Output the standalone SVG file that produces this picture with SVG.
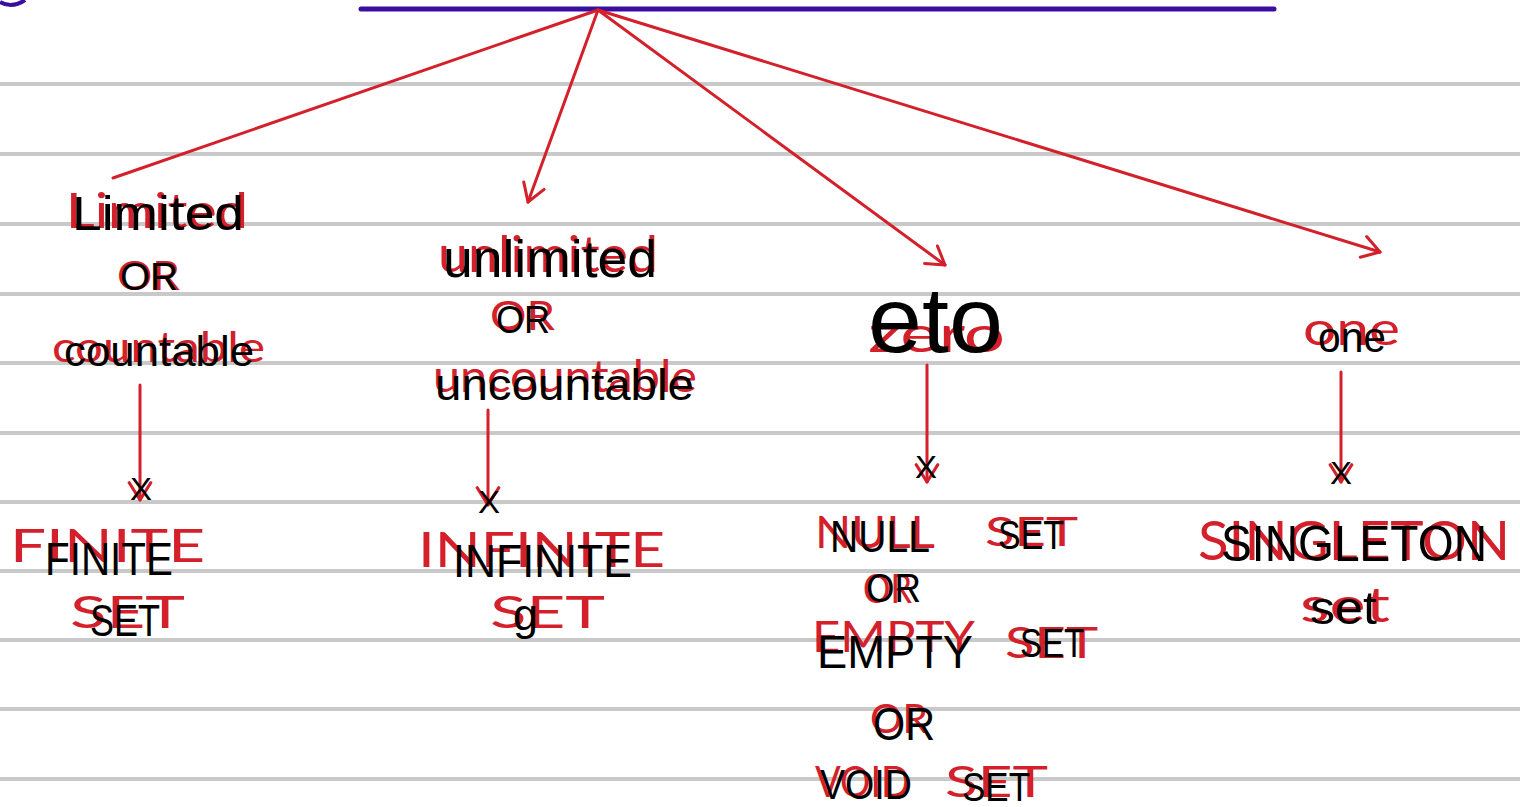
<svg xmlns="http://www.w3.org/2000/svg" width="1520" height="807" viewBox="0 0 1520 807">
<style>
.rule{stroke:#c9c9c9;stroke-width:4}
.conn{stroke:#d3202a;stroke-width:3;fill:none;stroke-linecap:round}
.hand{fill:#d3202a;font-family:Lato,"Liberation Sans",Arial,sans-serif;font-weight:400}
.ocr{fill:#000;font-family:"Liberation Sans",Arial,sans-serif}
</style>
<defs>
<marker id="head" viewBox="0 0 24 24" refX="22" refY="12" markerWidth="26" markerHeight="26" markerUnits="userSpaceOnUse" orient="auto">
<path d="M6,2 L22,12 L6,22" fill="none" stroke="#d3202a" stroke-width="2.8" stroke-linecap="round" stroke-linejoin="round"/>
</marker>
</defs>
<rect width="1520" height="807" fill="#fff"/>
<g id="ruled-paper">
<line class="rule" x1="0" y1="84" x2="1520" y2="84"/>
<line class="rule" x1="0" y1="154" x2="1520" y2="154"/>
<line class="rule" x1="0" y1="224" x2="1520" y2="224"/>
<line class="rule" x1="0" y1="294" x2="1520" y2="294"/>
<line class="rule" x1="0" y1="363" x2="1520" y2="363"/>
<line class="rule" x1="0" y1="433" x2="1520" y2="433"/>
<line class="rule" x1="0" y1="502" x2="1520" y2="502"/>
<line class="rule" x1="0" y1="571" x2="1520" y2="571"/>
<line class="rule" x1="0" y1="640" x2="1520" y2="640"/>
<line class="rule" x1="0" y1="709" x2="1520" y2="709"/>
<line class="rule" x1="0" y1="779" x2="1520" y2="779"/>
</g>
<g id="root">
<path d="M0,2 Q12,9 25,0" fill="none" stroke="#3a0f9f" stroke-width="4"/>
<line x1="361" y1="9" x2="1274" y2="9" stroke="#3a0f9f" stroke-width="5" stroke-linecap="round"/>
</g>
<g id="connectors">
<path class="conn" d="M598,10 L113,178"/>
<path class="conn" d="M598,10 L528,202" marker-end="url(#head)"/>
<path class="conn" d="M598,10 L945,265" marker-end="url(#head)"/>
<path class="conn" d="M598,10 L1380,252" marker-end="url(#head)"/>
<path class="conn" d="M140,385 L140,500" marker-end="url(#head)"/>
<path class="conn" d="M488,410 L488,505" marker-end="url(#head)"/>
<path class="conn" d="M927,365 L927,482" marker-end="url(#head)"/>
<path class="conn" d="M1341,372 L1341,482" marker-end="url(#head)"/>
</g>
<g id="node-limited">
<text class="hand" x="66" y="228" font-size="48" textLength="182" lengthAdjust="spacingAndGlyphs">Limited</text>
<text class="hand" x="117" y="290" font-size="40" textLength="63" lengthAdjust="spacingAndGlyphs">OR</text>
<text class="hand" x="52" y="362" font-size="42" textLength="213" lengthAdjust="spacingAndGlyphs">countable</text>
<text class="ocr" x="72" y="230" font-size="49" textLength="172" lengthAdjust="spacingAndGlyphs">Limited</text>
<text class="ocr" x="120" y="290" font-size="39" textLength="58" lengthAdjust="spacingAndGlyphs">OR</text>
<text class="ocr" x="64" y="366" font-size="42" textLength="190" lengthAdjust="spacingAndGlyphs">countable</text>
</g>
<g id="node-unlimited">
<text class="hand" x="438" y="272" font-size="50" textLength="220" lengthAdjust="spacingAndGlyphs">unlimited</text>
<text class="hand" x="490" y="330" font-size="40" textLength="65" lengthAdjust="spacingAndGlyphs">OR</text>
<text class="hand" x="433" y="392" font-size="44" textLength="264" lengthAdjust="spacingAndGlyphs">uncountable</text>
<text class="ocr" x="443" y="277" font-size="51" textLength="214" lengthAdjust="spacingAndGlyphs">unlimited</text>
<text class="ocr" x="496" y="333" font-size="39" textLength="54" lengthAdjust="spacingAndGlyphs">OR</text>
<text class="ocr" x="435" y="400" font-size="44" textLength="259" lengthAdjust="spacingAndGlyphs">uncountable</text>
</g>
<g id="node-zero">
<text class="hand" x="868" y="352" font-size="50" textLength="137" lengthAdjust="spacingAndGlyphs">zero</text>
<text class="ocr" x="868" y="352" font-size="92" textLength="135" lengthAdjust="spacingAndGlyphs">eto</text>
</g>
<g id="node-one">
<text class="hand" x="1303" y="345" font-size="46" textLength="97" lengthAdjust="spacingAndGlyphs">one</text>
<text class="ocr" x="1318" y="352" font-size="42" textLength="68" lengthAdjust="spacingAndGlyphs">one</text>
</g>
<g id="node-finite">
<text class="hand" x="10" y="562" font-size="46" textLength="195" lengthAdjust="spacingAndGlyphs">FINITE</text>
<text class="hand" x="70" y="628" font-size="44" textLength="115" lengthAdjust="spacingAndGlyphs">SET</text>
<text class="ocr" x="130" y="500" font-size="32" textLength="22" lengthAdjust="spacingAndGlyphs">X</text>
<text class="ocr" x="45" y="575" font-size="47" textLength="128" lengthAdjust="spacingAndGlyphs">FINITE</text>
<text class="ocr" x="90" y="636" font-size="44" textLength="70" lengthAdjust="spacingAndGlyphs">SET</text>
</g>
<g id="node-infinite">
<text class="hand" x="418" y="567" font-size="48" textLength="247" lengthAdjust="spacingAndGlyphs">INFINITE</text>
<text class="hand" x="490" y="628" font-size="44" textLength="115" lengthAdjust="spacingAndGlyphs">SET</text>
<text class="ocr" x="478" y="513" font-size="32" textLength="22" lengthAdjust="spacingAndGlyphs">X</text>
<text class="ocr" x="453" y="577" font-size="47" textLength="179" lengthAdjust="spacingAndGlyphs">INFINITE</text>
<text class="ocr" x="513" y="630" font-size="44" textLength="25" lengthAdjust="spacingAndGlyphs">g</text>
</g>
<g id="node-null">
<text class="hand" x="815" y="548" font-size="44" textLength="120" lengthAdjust="spacingAndGlyphs">NULL</text>
<text class="hand" x="985" y="546" font-size="40" textLength="93" lengthAdjust="spacingAndGlyphs">SET</text>
<text class="hand" x="863" y="603" font-size="40" textLength="49" lengthAdjust="spacingAndGlyphs">OR</text>
<text class="hand" x="812" y="652" font-size="42" textLength="163" lengthAdjust="spacingAndGlyphs">EMPTY</text>
<text class="hand" x="1005" y="658" font-size="42" textLength="93" lengthAdjust="spacingAndGlyphs">SET</text>
<text class="hand" x="870" y="733" font-size="40" textLength="58" lengthAdjust="spacingAndGlyphs">OR</text>
<text class="hand" x="815" y="797" font-size="42" textLength="95" lengthAdjust="spacingAndGlyphs">VOID</text>
<text class="hand" x="945" y="797" font-size="42" textLength="103" lengthAdjust="spacingAndGlyphs">SET</text>
<text class="ocr" x="915" y="478" font-size="32" textLength="22" lengthAdjust="spacingAndGlyphs">X</text>
<text class="ocr" x="830" y="552" font-size="44" textLength="100" lengthAdjust="spacingAndGlyphs">NULL</text>
<text class="ocr" x="998" y="549" font-size="40" textLength="66" lengthAdjust="spacingAndGlyphs">SET</text>
<text class="ocr" x="866" y="602" font-size="40" textLength="55" lengthAdjust="spacingAndGlyphs">OR</text>
<text class="ocr" x="817" y="668" font-size="46" textLength="156" lengthAdjust="spacingAndGlyphs">EMPTY</text>
<text class="ocr" x="1020" y="657" font-size="40" textLength="64" lengthAdjust="spacingAndGlyphs">SET</text>
<text class="ocr" x="873" y="740" font-size="46" textLength="62" lengthAdjust="spacingAndGlyphs">OR</text>
<text class="ocr" x="820" y="799" font-size="43" textLength="92" lengthAdjust="spacingAndGlyphs">VOID</text>
<text class="ocr" x="962" y="801" font-size="40" textLength="68" lengthAdjust="spacingAndGlyphs">SET</text>
</g>
<g id="node-singleton">
<text class="hand" x="1198" y="560" font-size="54" textLength="312" lengthAdjust="spacingAndGlyphs">SINGLETON</text>
<text class="hand" x="1300" y="622" font-size="48" textLength="90" lengthAdjust="spacingAndGlyphs">set</text>
<text class="ocr" x="1330" y="484" font-size="32" textLength="22" lengthAdjust="spacingAndGlyphs">X</text>
<text class="ocr" x="1221" y="561" font-size="50" textLength="266" lengthAdjust="spacingAndGlyphs">SINGLETON</text>
<text class="ocr" x="1310" y="624" font-size="47" textLength="67" lengthAdjust="spacingAndGlyphs">set</text>
</g>
</svg>
